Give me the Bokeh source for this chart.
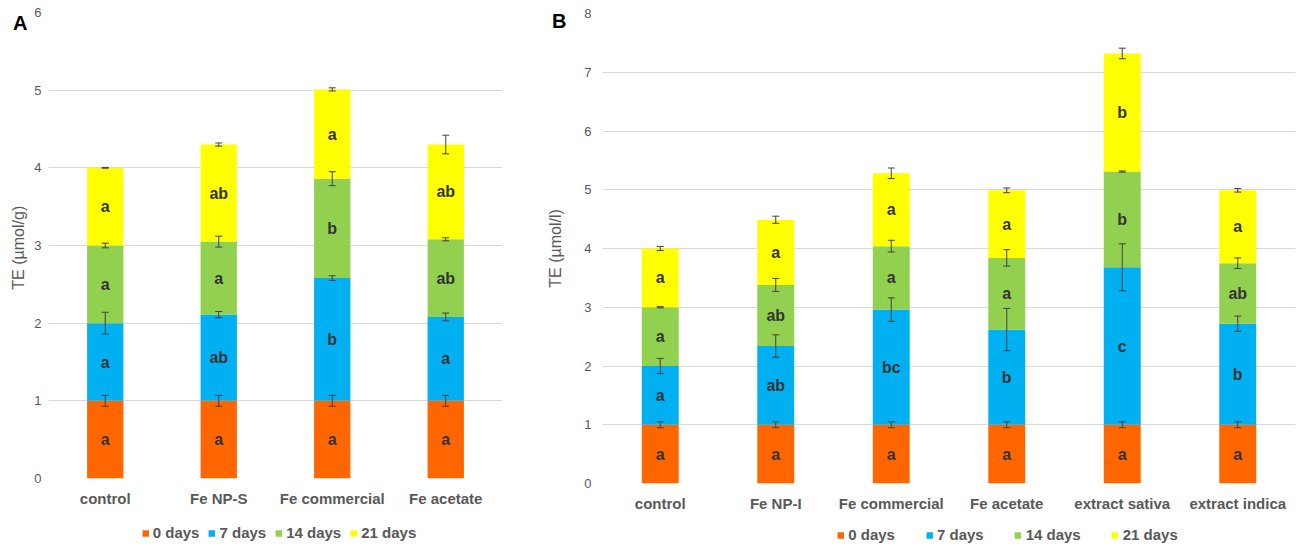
from bokeh.plotting import figure
from bokeh.models import (ColumnDataSource, FactorRange, Range1d, Whisker, TeeHead,
                          Legend, LegendItem, FixedTicker, LinearAxis, Spacer)
from bokeh.layouts import row, column
from bokeh.embed import file_html
from bokeh.resources import INLINE
from bokeh.core.properties import value

series = ["0 days", "7 days", "14 days", "21 days"]
colors = ["#FF6600", "#00B0F0", "#92D050", "#FFFF00"]

# ---- Panel A (TE, umol/g) : segment heights ----
cats_a = ["control", "Fe NP-S", "Fe commercial", "Fe acetate"]
a_d0 = [1.00, 1.00, 1.00, 1.00]
a_d7 = [1.00, 1.11, 1.58, 1.08]
a_d14 = [1.00, 0.94, 1.28, 1.00]
a_d21 = [1.00, 1.25, 1.15, 1.22]
a_e0 = [0.07, 0.07, 0.07, 0.07]
a_e7 = [0.14, 0.04, 0.03, 0.05]
a_e14 = [0.03, 0.07, 0.09, 0.02]
a_e21 = [0.005, 0.02, 0.02, 0.12]
a_l0 = ["a", "a", "a", "a"]
a_l7 = ["a", "ab", "b", "a"]
a_l14 = ["a", "a", "b", "ab"]
a_l21 = ["a", "ab", "a", "ab"]

# ---- Panel B (TE, umol/l) : segment heights ----
cats_b = ["control", "Fe NP-I", "Fe commercial", "Fe acetate", "extract sativa", "extract indica"]
b_d0 = [1.00, 1.00, 1.00, 1.00, 1.00, 1.00]
b_d7 = [1.00, 1.34, 1.96, 1.62, 2.68, 1.72]
b_d14 = [1.00, 1.04, 1.08, 1.22, 1.63, 1.03]
b_d21 = [1.00, 1.11, 1.24, 1.15, 2.01, 1.24]
b_e0 = [0.05, 0.05, 0.05, 0.05, 0.05, 0.05]
b_e7 = [0.13, 0.19, 0.20, 0.36, 0.40, 0.13]
b_e14 = [0.01, 0.11, 0.10, 0.14, 0.01, 0.09]
b_e21 = [0.035, 0.06, 0.09, 0.04, 0.09, 0.03]
b_l0 = ["a", "a", "a", "a", "a", "a"]
b_l7 = ["a", "ab", "bc", "b", "c", "b"]
b_l14 = ["a", "ab", "a", "a", "b", "ab"]
b_l21 = ["a", "a", "a", "a", "b", "a"]

FONT = "Liberation Sans"
GRAY = "#595959"
MAIN_H = 520
LEG_H = 30


def no_ticks(ax):
    ax.axis_line_color = None
    ax.major_tick_line_color = None
    ax.minor_tick_line_color = None
    ax.major_tick_out = 0
    ax.major_tick_in = 0
    ax.minor_tick_out = 0
    ax.minor_tick_in = 0


def make_panel(cats, segs, errs, letters, ymax, width, borders, ylabel, tag, tag_y,
               tick_standoff, tag_standoff, ylab_standoff):
    left, right, top, bottom = borders
    p = figure(x_range=FactorRange(*cats), y_range=Range1d(0, ymax), width=width, height=MAIN_H,
               output_backend="svg", toolbar_location=None,
               min_border_left=left, min_border_right=right,
               min_border_top=top, min_border_bottom=bottom)
    p.outline_line_color = None
    p.background_fill_color = "white"
    p.border_fill_color = "white"
    p.xgrid.grid_line_color = None
    p.ygrid.grid_line_color = "#d9d9d9"
    p.ygrid.grid_line_width = 1

    yax = p.yaxis[0]
    xax = p.xaxis[0]
    yax.ticker = FixedTicker(ticks=list(range(0, ymax + 1)))

    data = {"cat": cats}
    for s, v in zip(series, segs):
        data[s] = v
    src = ColumnDataSource(data)
    p.vbar_stack(series, x="cat", width=0.32, color=colors, line_color=None, source=src)

    base = [0.0] * len(cats)
    for v, e, lab in zip(segs, errs, letters):
        top_vals = [b + x for b, x in zip(base, v)]
        mids = [b + x / 2 for b, x in zip(base, v)]
        tsrc = ColumnDataSource(dict(cat=cats, mid=mids, lab=lab))
        p.text(x="cat", y="mid", text="lab", source=tsrc, text_align="center",
               text_baseline="middle", text_font=value(FONT), text_font_style="bold",
               text_font_size="16px", text_color="#333333")
        wsrc = ColumnDataSource(dict(cat=cats, upper=[t + x for t, x in zip(top_vals, e)],
                                     lower=[t - x for t, x in zip(top_vals, e)]))
        w = Whisker(base="cat", upper="upper", lower="lower", source=wsrc,
                    line_color="#404040", line_width=1, level="overlay",
                    upper_head=TeeHead(size=7, line_color="#404040", line_width=1),
                    lower_head=TeeHead(size=7, line_color="#404040", line_width=1))
        p.add_layout(w)
        base = top_vals

    no_ticks(xax)
    no_ticks(yax)
    yax.major_label_text_font = FONT
    yax.major_label_text_font_size = "13px"
    yax.major_label_text_color = GRAY
    yax.major_label_standoff = tick_standoff
    xax.major_label_text_font = FONT
    xax.major_label_text_font_size = "15px"
    xax.major_label_text_font_style = "bold"
    xax.major_label_text_color = GRAY
    xax.major_label_standoff = 11

    # outer left axis: carries the panel tag and the y-axis title
    outer = LinearAxis(ticker=FixedTicker(ticks=[tag_y]),
                       major_label_overrides={tag_y: tag},
                       axis_label=ylabel)
    no_ticks(outer)
    outer.major_label_text_font = FONT
    outer.major_label_text_font_size = "20px"
    outer.major_label_text_font_style = "bold"
    outer.major_label_text_color = "black"
    outer.major_label_standoff = tag_standoff
    outer.axis_label_text_font = FONT
    outer.axis_label_text_font_size = "16px"
    outer.axis_label_text_font_style = "normal"
    outer.axis_label_text_color = GRAY
    outer.axis_label_standoff = ylab_standoff
    p.add_layout(outer, "left")
    return p


def make_legend(total_width, shift, margin, spacing):
    lf = figure(width=total_width - shift, height=LEG_H, output_backend="svg",
                toolbar_location=None, x_axis_type=None, y_axis_type=None,
                x_range=Range1d(0, 1), y_range=Range1d(0, 1),
                min_border_left=0, min_border_right=0, min_border_top=0, min_border_bottom=0)
    lf.outline_line_color = None
    lf.xgrid.visible = False
    lf.ygrid.visible = False
    items = []
    for s, c in zip(series, colors):
        # one zero-height bar outside the view: only used for its legend swatch
        r = lf.vbar(x=[-10], top=[0], width=0.5, color=c, line_color=None)
        items.append(LegendItem(label=s, renderers=[r]))
    leg = Legend(items=items, orientation="horizontal", location="bottom_center",
                 glyph_width=8, glyph_height=8, label_standoff=4, spacing=spacing,
                 padding=0, margin=margin,
                 label_text_font=FONT, label_text_font_size="15px",
                 label_text_font_style="bold", label_text_color=GRAY,
                 border_line_color=None, background_fill_alpha=0)
    lf.add_layout(leg, "center")
    if shift > 0:
        return row(Spacer(width=shift, height=LEG_H), lf)
    return lf


pa = make_panel(cats_a, [a_d0, a_d7, a_d14, a_d21], [a_e0, a_e7, a_e14, a_e21],
                [a_l0, a_l7, a_l14, a_l21], 6, 540, (48, 38, 12, MAIN_H - 478),
                "TE  (µmol/g)", "A", 5.865, 7, 4, -17)
pb = make_panel(cats_b, [b_d0, b_d7, b_d14, b_d21], [b_e0, b_e7, b_e14, b_e21],
                [b_l0, b_l7, b_l14, b_l21], 8, 768, (62, 13, 13, MAIN_H - 483),
                "TE (µmol/l)", "B", 7.88, 11, 15, -15)
la = make_legend(540, 17, 9, 8)
lb = make_legend(768, 166, 7, 30)

layout = row(column(pa, la), column(pb, lb))
open("out.html", "w").write(file_html(layout, INLINE))
